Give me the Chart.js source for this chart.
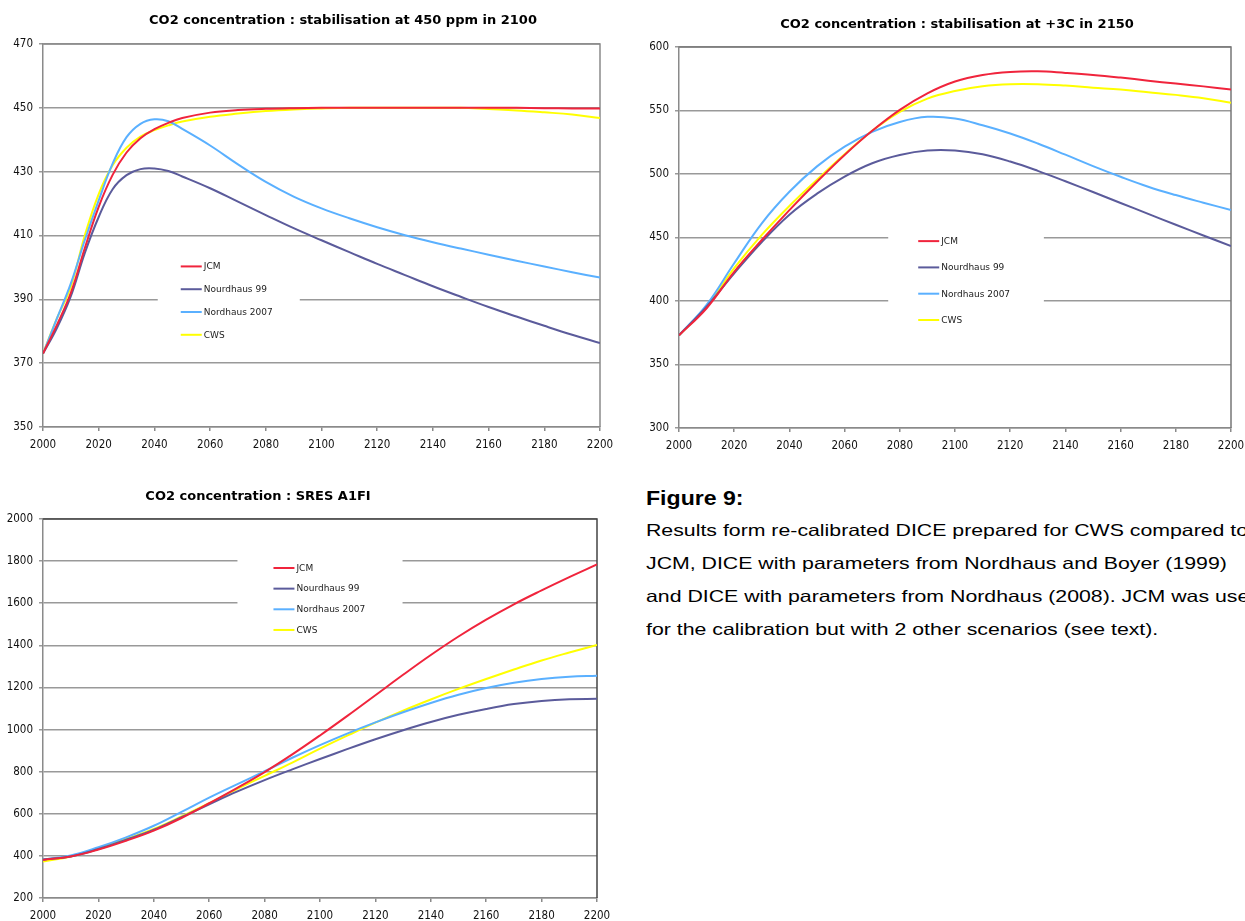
<!DOCTYPE html>
<html lang="en">
<head>
    <meta charset="UTF-8">
    <title>CO2 concentration - Figure 9</title>
    <style>
        body {
            margin: 0;
            width: 1245px;
            height: 921px;
            overflow: hidden;
            background: #ffffff;
            position: relative;
            font-family: "Liberation Sans", Arial, sans-serif;
            color: #000;
        }
        canvas { position: absolute; }
        #c1 { left: 0; top: 0; }
        #c2 { left: 625px; top: 0; }
        #c3 { left: 0; top: 470px; }
        .cap {
            position: absolute;
            left: 646px;
            margin: 0;
            white-space: nowrap;
            transform-origin: 0 0;
        }
        #fig-title {
            top: 484px;
            font-size: 21px;
            line-height: 28px;
            font-weight: bold;
            transform: scaleX(1.1);
        }
        #fig-text {
            top: 514px;
            font-size: 16.5px;
            line-height: 33px;
            transform: scaleX(1.29);
        }
    </style>
</head>
<body>
    <canvas id="c1" width="620" height="460"></canvas>
    <canvas id="c2" width="620" height="460"></canvas>
    <canvas id="c3" width="620" height="451"></canvas>
    <div class="cap" id="fig-title">Figure 9:</div>
    <div class="cap" id="fig-text">Results form re-calibrated DICE prepared for CWS compared to<br>
        JCM, DICE with parameters from Nordhaus and Boyer (1999)<br>
        and DICE with parameters from Nordhaus (2008). JCM was used<br>
        for the calibration but with 2 other scenarios (see text).</div>

    <script src="https://cdn.jsdelivr.net/npm/chart.js"></script>
    <script>
        // series names and colours
        const seriesNames = ['JCM', 'Nourdhaus 99', 'Nordhaus 2007', 'CWS'];
        const seriesColors = ['#f0243c', '#5b5b9b', '#5ab0ff', '#ffff00'];

        // 450 ppm in 2100
        const years1 = [2000, 2005, 2010, 2015, 2020, 2025, 2030, 2035, 2040, 2045, 2050,
            2060, 2070, 2080, 2090, 2100, 2110, 2120, 2130, 2140, 2150, 2160, 2170, 2180, 2190, 2200];
        const jcm1 = [373, 382, 392, 406, 419, 429, 436, 440.5, 443.3, 445.3, 446.8,
            448.5, 449.3, 449.7, 449.9, 450, 450, 450, 450, 450, 450, 450, 450, 449.9, 449.8, 449.8];
        const n99_1 = [373, 381, 391, 404.5, 415.8, 424.5, 428.9, 430.8, 431, 430.2, 428.5,
            424.8, 420.6, 416.4, 412.3, 408.5, 404.8, 401.1, 397.6, 394.1, 390.8, 387.6, 384.6, 381.7, 378.9, 376.3];
        const n07_1 = [373, 384, 395, 408.5, 421, 432.5, 440.8, 445, 446.4, 445.8, 443.4,
            438.2, 432.3, 426.8, 422.2, 418.5, 415.4, 412.6, 410.1, 407.9, 405.9, 404, 402.1, 400.3, 398.5, 396.8];
        const cws1 = [373, 384, 394, 410, 423, 432, 437.5, 441, 443, 444.5, 445.7,
            447.2, 448.2, 449, 449.5, 449.8, 450, 450, 450, 450, 450, 449.6, 449.2, 448.6, 447.9, 446.8];

        // +3C in 2150 and SRES A1FI
        const years = [2000, 2010, 2020, 2030, 2040, 2050, 2060, 2070, 2080, 2090, 2100,
            2110, 2120, 2130, 2140, 2150, 2160, 2170, 2180, 2190, 2200];
        const jcm2 = [373, 394.3, 423, 448, 471.6, 493.9, 515, 534, 550.5, 563.5, 572.8,
            578, 580.4, 580.9, 579.6, 578, 575.9, 573.5, 571.2, 569, 566.5];
        const n99_2 = [373, 395.6, 421.8, 446.5, 468, 484.5, 498, 508.5, 515, 518.5, 518.5,
            515.5, 509.8, 502.5, 494.3, 485.8, 477.2, 468.6, 460, 451.6, 443.3];
        const n07_2 = [373, 397, 429.7, 461.2, 486, 506, 521.5, 533.2, 541, 545, 543.7,
            538.4, 531.9, 524, 515.2, 506.2, 497.8, 490, 483.4, 477.4, 471.6];
        const cws2 = [373, 395.6, 425.8, 452, 474.8, 495.5, 515.5, 534, 548.9, 559.4, 565.4,
            569.1, 570.7, 570.7, 569.6, 568, 566.5, 564.4, 562.3, 559.7, 556];

        const jcm3 = [381, 397, 430, 472, 520, 580, 650, 722, 798, 882, 972,
            1066, 1163, 1260, 1354, 1442, 1522, 1595, 1661, 1724, 1784];
        const n99_3 = [383, 397, 433, 477, 524, 584, 645, 705, 760, 811, 860,
            908, 954, 997, 1036, 1070, 1098, 1121, 1136, 1144, 1146];
        const n07_3 = [383, 402, 441, 488, 543, 609, 677, 740, 802, 866, 926,
            982, 1034, 1082, 1126, 1165, 1197, 1222, 1240, 1251, 1256];
        const cws3 = [373, 397, 436, 480, 528, 587, 650, 717, 780, 843, 909,
            972, 1033, 1090, 1143, 1193, 1240, 1285, 1328, 1366, 1402];

        // title, frame and the legend box inside the plot
        const panelPlugin = {
            id: 'panel',
            beforeDatasetsDraw(chart, args, opts) {
                const a = chart.chartArea;
                const ctx = chart.ctx;
                const w = a.right - a.left, h = a.bottom - a.top;
                ctx.save();
                // top and right border
                ctx.strokeStyle = opts.frameColor;
                ctx.lineWidth = 1.5;
                ctx.beginPath();
                ctx.moveTo(a.left, a.top);
                ctx.lineTo(a.right, a.top);
                ctx.lineTo(a.right, a.bottom);
                ctx.stroke();

                const lg = opts.legend;
                const x0 = a.left + lg.left * w, x1 = a.left + lg.right * w;
                const y0 = a.top + lg.top * h, y1 = a.top + lg.bottom * h;
                ctx.fillStyle = '#ffffff';
                ctx.fillRect(x0, y0, x1 - x0, y1 - y0);
                const sets = chart.data.datasets;
                const step = (y1 - y0) / sets.length;
                ctx.font = '9px "DejaVu Sans"';
                ctx.textBaseline = 'middle';
                ctx.textAlign = 'left';
                sets.forEach((ds, i) => {
                    const y = y0 + step * (i + 0.5);
                    const sx = x0 + lg.indent;
                    ctx.strokeStyle = ds.borderColor;
                    ctx.lineWidth = 2;
                    ctx.beginPath();
                    ctx.moveTo(sx, y);
                    ctx.lineTo(sx + 21, y);
                    ctx.stroke();
                    ctx.fillStyle = '#222';
                    ctx.fillText(ds.label, sx + 23, y + 0.5);
                });
                ctx.restore();
            },
            afterDraw(chart, args, opts) {
                const ctx = chart.ctx;
                ctx.save();
                ctx.font = 'bold 13px "DejaVu Sans"';
                ctx.fillStyle = '#000';
                ctx.textAlign = 'center';
                ctx.textBaseline = 'middle';
                ctx.fillText(opts.title, opts.titleX, opts.titleY);
                ctx.restore();
            }
        };

        const tickFont = { family: '"DejaVu Sans Condensed", "DejaVu Sans"', size: 11.5 };

        function makeChart(id, xs, values, cfg) {
            const datasets = values.map((vals, i) => ({
                label: seriesNames[i],
                data: xs.map((x, j) => ({ x: x, y: vals[j] })),
                borderColor: seriesColors[i],
                backgroundColor: seriesColors[i],
                borderWidth: 2,
                pointRadius: 0,
                tension: 0.4,
                fill: false
            }));
            return new Chart(document.getElementById(id), {
                type: 'line',
                data: { datasets: datasets },
                options: {
                    responsive: false,
                    animation: false,
                    devicePixelRatio: 1,
                    layout: { padding: { top: cfg.top, right: cfg.right, left: 0, bottom: 0 } },
                    scales: {
                        x: {
                            type: 'linear',
                            min: 2000,
                            max: 2200,
                            afterFit: s => { s.height = cfg.xHeight; s.paddingLeft = 0; s.paddingRight = 0; },
                            grid: { drawOnChartArea: false, drawTicks: true, tickLength: 4, color: '#8a8a8a', lineWidth: 1.5 },
                            border: { color: '#8a8a8a', width: 1.5 },
                            ticks: {
                                stepSize: 20,
                                maxRotation: 0,
                                padding: 7,
                                color: '#111',
                                font: tickFont,
                                callback: v => String(v)
                            }
                        },
                        y: {
                            min: cfg.yMin,
                            max: cfg.yMax,
                            afterFit: s => { s.width = cfg.yWidth; },
                            grid: { color: '#999999', lineWidth: 1.5, tickLength: 4 },
                            border: { color: '#8a8a8a', width: 1.5 },
                            ticks: {
                                stepSize: cfg.yStep,
                                padding: 6,
                                color: '#111',
                                font: tickFont,
                                callback: v => String(v)
                            }
                        }
                    },
                    plugins: {
                        legend: { display: false },
                        tooltip: { enabled: false },
                        panel: {
                            title: cfg.title,
                            titleX: cfg.titleX,
                            titleY: cfg.titleY,
                            frameColor: cfg.frameColor,
                            legend: cfg.legend
                        }
                    }
                },
                plugins: [panelPlugin]
            });
        }

        makeChart('c1', years1, [jcm1, n99_1, n07_1, cws1], {
            title: 'CO2 concentration : stabilisation at 450 ppm in 2100',
            titleX: 343, titleY: 21,
            top: 44, right: 20, xHeight: 33, yWidth: 43,
            yMin: 350, yMax: 470, yStep: 20,
            frameColor: '#8a8a8a',
            legend: { left: 0.206, right: 0.461, top: 0.551, bottom: 0.789, indent: 23 }
        });

        makeChart('c2', years, [jcm2, n99_2, n07_2, cws2], {
            title: 'CO2 concentration : stabilisation at +3C in 2150',
            titleX: 332, titleY: 25,
            top: 47, right: 14, xHeight: 32, yWidth: 54,
            yMin: 300, yMax: 600, yStep: 50,
            frameColor: '#777',
            legend: { left: 0.379, right: 0.661, top: 0.475, bottom: 0.751, indent: 30 }
        });

        makeChart('c3', years, [jcm3, n99_3, n07_3, cws3], {
            title: 'CO2 concentration : SRES A1FI',
            titleX: 258, titleY: 27,
            top: 49, right: 23, xHeight: 23, yWidth: 43,
            yMin: 200, yMax: 2000, yStep: 200,
            frameColor: '#444',
            legend: { left: 0.351, right: 0.649, top: 0.102, bottom: 0.320, indent: 36 }
        });
    </script>
</body>
</html>
